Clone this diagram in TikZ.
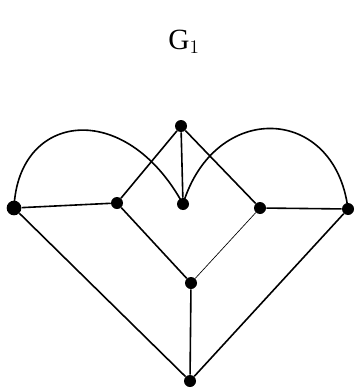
\documentclass[tikz,border=0pt]{standalone}
\usepackage{fontspec}
\setmainfont{Liberation Serif}
\usepackage{tikz}
\usetikzlibrary{positioning}

\tikzset{
  vtx/.style={circle,fill=black,inner sep=0pt,minimum size=9pt},
  edge/.style={line width=1.2pt},
  thinedge/.style={line width=0.5pt}
}

\begin{document}
\begin{tikzpicture}[x=0.75pt,y=-0.75pt]
  \useasboundingbox (0,0) rectangle (355,389);
  % title
  \node[font=\fontsize{22}{24}\selectfont] (title) at (184,42) {G$_1$};
  % vertices (pixel coordinates, y down)
  \node[vtx] (top) at (181,126) {};
  \node[vtx,minimum size=11pt] (lft) at (14,208) {};
  \node[vtx] (inl) at (117,203) {};
  \node[vtx] (ctr) at (183,204) {};
  \node[vtx] (inr) at (260,208) {};
  \node[vtx] (rgt) at (348,209) {};
  \node[vtx] (mid) at (191,283) {};
  \node[vtx] (bot) at (190,381) {};
  % straight edges
  \draw[edge] (lft) -- (inl) -- (top) -- (inr) -- (rgt);
  \draw[edge] (top) -- (ctr);
  \draw[edge] (inl) -- (mid) -- (bot);
  \draw[thinedge] (inr) -- (mid);
  \draw[edge] (lft) -- (bot) -- (rgt);
  % the two loops over the top
  \draw[edge] (lft.center) .. controls (18,112) and (125,98) .. (ctr.center);
  \draw[edge] (ctr.center) .. controls (215,100) and (335,105) .. (rgt.center);
\end{tikzpicture}
\end{document}
